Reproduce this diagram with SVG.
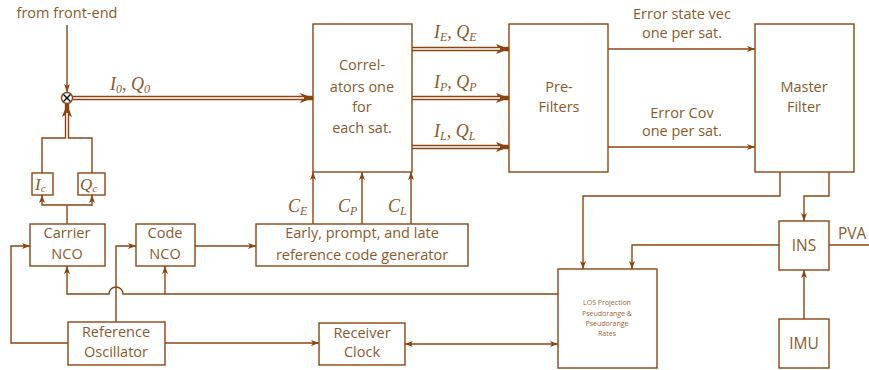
<svg xmlns="http://www.w3.org/2000/svg" width="869" height="370" viewBox="0 0 869 370">
<style>
.box{fill:#fff;stroke:#8b4513;stroke-width:1.4}
.ln{fill:none;stroke:#8b4513;stroke-width:1.4}
.dbo{fill:none;stroke:#8b4513;stroke-width:4.4}
.dbi{fill:none;stroke:#fff;stroke-width:1.6}
.t{font-family:"Open Sans","DejaVu Sans",sans-serif;font-size:14.5px;fill:#8b5a2b;text-anchor:middle}
.s{font-family:"Open Sans","DejaVu Sans",sans-serif;font-size:7px;fill:#9a6633;text-anchor:middle}
.m{font-family:"Liberation Serif",serif;font-style:italic;font-size:18px;fill:#8b5a2b}
.sub{font-size:12px}
</style>
<defs>
<marker id="a" viewBox="0 0 8 6" refX="8" refY="3" markerWidth="8" markerHeight="6" orient="auto-start-reverse" markerUnits="userSpaceOnUse"><path d="M0,0 L8,3 L0,6 L2,3 z" fill="#8b4513"/></marker>
<marker id="d" viewBox="0 0 13 10" refX="13" refY="5" markerWidth="13" markerHeight="10" orient="auto" markerUnits="userSpaceOnUse"><path d="M0,0 L13,5 L0,10 L3,5 z" fill="#8b4513"/></marker>
</defs>

<g id="connectors">
  <path class="ln" d="M67 25 V92" marker-end="url(#a)"/>
  <path class="dbo" d="M73 98 H313" marker-end="url(#d)"/>
  <path class="dbi" d="M73 98 H304"/>
  <path class="dbo" d="M412 49 H509" marker-end="url(#d)"/>
  <path class="dbi" d="M412 49 H500"/>
  <path class="dbo" d="M412 98 H509" marker-end="url(#d)"/>
  <path class="dbi" d="M412 98 H500"/>
  <path class="dbo" d="M412 147 H509" marker-end="url(#d)"/>
  <path class="dbi" d="M412 147 H500"/>
  <path class="ln" d="M608 49 H755" marker-end="url(#a)"/>
  <path class="ln" d="M608 147 H755" marker-end="url(#a)"/>
  <path class="ln" d="M780 172 V196 H583 V269" marker-end="url(#a)"/>
  <path class="ln" d="M829 172 V196 H804 V221" marker-end="url(#a)"/>
  <path class="ln" d="M779 245 H632 V269" marker-end="url(#a)"/>
  <path class="ln" d="M829 245 H869"/>
  <path class="ln" d="M804 319 V270" marker-end="url(#a)"/>
  <path class="ln" d="M558 294 H123 A7 7 0 0 0 109 294 H67 V266" marker-end="url(#a)"/>
  <path class="ln" d="M165 294 V266" marker-end="url(#a)"/>
  <path class="ln" d="M116 322 V246 H136" marker-end="url(#a)"/>
  <path class="ln" d="M68 343 H11 V246 H30" marker-end="url(#a)"/>
  <path class="ln" d="M165 343 H319" marker-end="url(#a)"/>
  <path class="ln" d="M405 344 H558" marker-start="url(#a)" marker-end="url(#a)"/>
  <path class="ln" d="M195 246 H256" marker-end="url(#a)"/>
  <path class="ln" d="M313 224 V172" marker-end="url(#a)"/>
  <path class="ln" d="M362 224 V172" marker-end="url(#a)"/>
  <path class="ln" d="M411 224 V172" marker-end="url(#a)"/>
  <path class="ln" d="M67 224 V205"/>
  <path class="ln" d="M67 205 H42 V195" marker-end="url(#a)"/>
  <path class="ln" d="M67 205 H92 V195" marker-end="url(#a)"/>
  <path class="ln" d="M42 173 V138 H92 V173"/>
  <path class="dbo" d="M67 138 V104" marker-end="url(#d)"/>
  <path class="dbi" d="M67 139 V113"/>
</g>

<g id="labels">
  <text class="t" x="67" y="18">from front-end</text>
  <text class="m" x="110" y="90">I<tspan class="sub" dy="3">0</tspan><tspan dy="-3">, Q</tspan><tspan class="sub" dy="3">0</tspan></text>
  <text class="m" x="434" y="38">I<tspan class="sub" dy="3">E</tspan><tspan dy="-3">, Q</tspan><tspan class="sub" dy="3">E</tspan></text>
  <text class="m" x="434" y="88">I<tspan class="sub" dy="3">P</tspan><tspan dy="-3">, Q</tspan><tspan class="sub" dy="3">P</tspan></text>
  <text class="m" x="434" y="137">I<tspan class="sub" dy="3">L</tspan><tspan dy="-3">, Q</tspan><tspan class="sub" dy="3">L</tspan></text>
  <text class="m" x="288" y="212">C<tspan class="sub" dy="3">E</tspan></text>
  <text class="m" x="338" y="212">C<tspan class="sub" dy="3">P</tspan></text>
  <text class="m" x="388" y="212">C<tspan class="sub" dy="3">L</tspan></text>
  <text class="t" x="682" y="19">Error state vec</text>
  <text class="t" x="682" y="38">one per sat.</text>
  <text class="t" x="682" y="118">Error Cov</text>
  <text class="t" x="682" y="136">one per sat.</text>
  <text class="t" x="838" y="239" style="text-anchor:start;font-size:15.5px">PVA</text>
</g>

<g id="mixer">
  <circle cx="67" cy="98" r="5.5" fill="#fff" stroke="#8b4513" stroke-width="1.4"/>
  <path d="M63.5 94.5 L70.5 101.5 M70.5 94.5 L63.5 101.5" stroke="#000" stroke-width="1.4"/>
</g>

<g id="correlators">
  <rect class="box" x="313" y="24" width="99" height="148"/>
  <text class="t" x="362" y="70">Correl-</text>
  <text class="t" x="362" y="92">ators one</text>
  <text class="t" x="362" y="112">for</text>
  <text class="t" x="362" y="133">each sat.</text>
</g>

<g id="prefilters">
  <rect class="box" x="509" y="24" width="99" height="148"/>
  <text class="t" x="559" y="92">Pre-</text>
  <text class="t" x="559" y="112">Filters</text>
</g>

<g id="master">
  <rect class="box" x="755" y="24" width="99" height="148"/>
  <text class="t" x="804" y="92">Master</text>
  <text class="t" x="804" y="112">Filter</text>
</g>

<g id="ins">
  <rect class="box" x="779" y="221" width="50" height="49"/>
  <text class="t" x="804" y="251" style="font-size:15.5px">INS</text>
</g>

<g id="imu">
  <rect class="box" x="779" y="319" width="50" height="49"/>
  <text class="t" x="804" y="349" style="font-size:15.5px">IMU</text>
</g>

<g id="los">
  <rect class="box" x="558" y="269" width="99" height="99"/>
  <text class="s" x="607" y="305">LOS Projection</text>
  <text class="s" x="607" y="316">Pseudorange &amp;</text>
  <text class="s" x="607" y="326">Pseudorange</text>
  <text class="s" x="607" y="336">Rates</text>
</g>

<g id="ic">
  <rect class="box" x="32" y="173" width="21" height="22"/>
  <text class="m" x="35" y="190" style="font-size:17px">I<tspan class="sub" dy="2" style="font-size:11px">c</tspan></text>
</g>

<g id="qc">
  <rect class="box" x="78" y="173" width="27" height="22"/>
  <text class="m" x="80" y="190" style="font-size:17px">Q<tspan class="sub" dy="2" style="font-size:11px">c</tspan></text>
</g>

<g id="carrier-nco">
  <rect class="box" x="30" y="224" width="75" height="42"/>
  <text class="t" x="67" y="238">Carrier</text>
  <text class="t" x="67" y="259">NCO</text>
</g>

<g id="code-nco">
  <rect class="box" x="136" y="224" width="59" height="42"/>
  <text class="t" x="165" y="238">Code</text>
  <text class="t" x="165" y="259">NCO</text>
</g>

<g id="code-generator">
  <rect class="box" x="256" y="224" width="212" height="42"/>
  <text class="t" x="362" y="238">Early, prompt, and late</text>
  <text class="t" x="362" y="260">reference code generator</text>
</g>

<g id="ref-osc">
  <rect class="box" x="68" y="322" width="97" height="43"/>
  <text class="t" x="116" y="337">Reference</text>
  <text class="t" x="116" y="357">Oscillator</text>
</g>

<g id="receiver-clock">
  <rect class="box" x="319" y="323" width="86" height="42"/>
  <text class="t" x="362" y="338">Receiver</text>
  <text class="t" x="362" y="357">Clock</text>
</g>
</svg>
